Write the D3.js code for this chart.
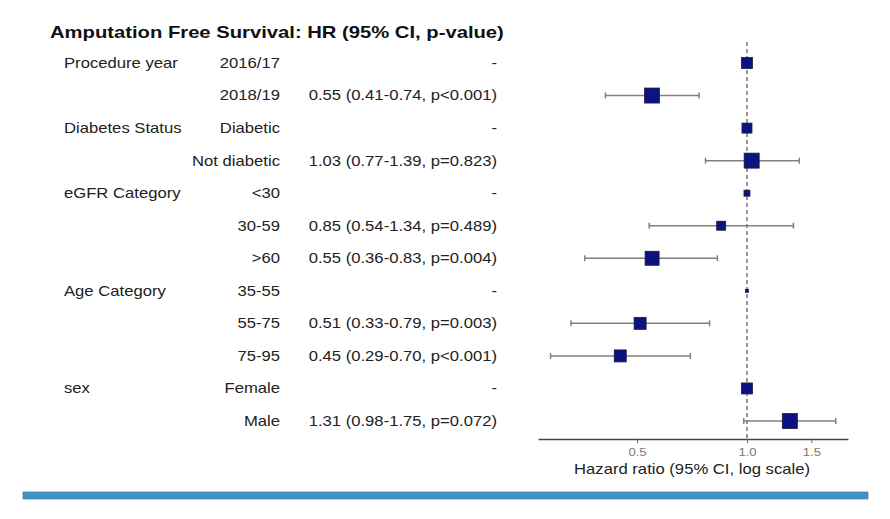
<!DOCTYPE html>
<html>
<head>
<meta charset="utf-8">
<script src="https://cdn.jsdelivr.net/npm/d3@7"></script>
<style>
  body { margin: 0; background: #fff; }
  text { font-family: "Liberation Sans", Arial, sans-serif; }
</style>
</head>
<body>
<script>
// data
var groups = ["Procedure year", "", "Diabetes Status", "", "eGFR Category", "", "", "Age Category", "", "", "sex", ""];
var levels = ["2016/17", "2018/19", "Diabetic", "Not diabetic", "<30", "30-59", ">60", "35-55", "55-75", "75-95", "Female", "Male"];
var hr    = [1, 0.55, 1, 1.03, 1, 0.85, 0.55, 1, 0.51, 0.45, 1, 1.31];
var lower = [null, 0.41, null, 0.77, null, 0.54, 0.36, null, 0.33, 0.29, null, 0.98];
var upper = [null, 0.74, null, 1.39, null, 1.34, 0.83, null, 0.79, 0.70, null, 1.75];
var pvals = ["", "p<0.001", "", "p=0.823", "", "p=0.489", "p=0.004", "", "p=0.003", "p<0.001", "", "p=0.072"];
// relative box weight (group sizes)
var weights = [11, 15, 10, 15, 6, 9, 14, 3, 12, 12, 11, 15];
var tickVals = [0.5, 1.0, 1.5];

var W = 890, H = 519;
var SX = 1.19; // source image is stretched horizontally
var svg = d3.select("body").append("svg")
  .attr("width", W)
  .attr("height", H);

function place(x, y) { return "translate(" + x + "," + y + ") scale(" + SX + ",1)"; }

var rows = levels.map(function(d, i) {
  return {group: groups[i], level: d, hr: hr[i], lo: lower[i], hi: upper[i], p: pvals[i], w: weights[i], i: i};
});

var y = d3.scalePoint()
  .domain(d3.range(rows.length))
  .range([63, 421]);

var x = d3.scaleLog()
  .domain([0.268, 1.89])
  .range([538, 848]);

var size = d3.scaleLinear().domain([0, 15]).range([0, 15]);

// title
svg.append("text")
  .attr("transform", place(50, 38))
  .attr("font-size", "17px")
  .attr("font-weight", "bold")
  .attr("fill", "#111")
  .text("Amputation Free Survival: HR (95% CI, p-value)");

// table columns
var tbl = svg.append("g").attr("font-size", "14px").attr("fill", "#222");

tbl.selectAll(".grp")
  .data(rows.filter(function(d) { return d.group; }))
  .enter().append("text")
  .attr("class", "grp")
  .attr("transform", function(d) { return place(64, y(d.i)); })
  .attr("dy", "0.35em")
  .text(function(d) { return d.group; });

tbl.selectAll(".lvl")
  .data(rows)
  .enter().append("text")
  .attr("class", "lvl")
  .attr("transform", function(d) { return place(280, y(d.i)); })
  .attr("dy", "0.35em")
  .attr("text-anchor", "end")
  .text(function(d) { return d.level; });

var fmt = d3.format(".2f");
tbl.selectAll(".est")
  .data(rows)
  .enter().append("text")
  .attr("class", "est")
  .attr("transform", function(d) { return place(497, y(d.i)); })
  .attr("dy", "0.35em")
  .attr("text-anchor", "end")
  .text(function(d) {
    if (d.lo == null) return "-";
    return fmt(d.hr) + " (" + fmt(d.lo) + "-" + fmt(d.hi) + ", " + d.p + ")";
  });

// reference line at 1
svg.append("line")
  .attr("x1", x(1)).attr("x2", x(1))
  .attr("y1", 42).attr("y2", 439)
  .attr("stroke", "#555")
  .attr("stroke-width", 1.2)
  .attr("stroke-dasharray", "4,3");

// whiskers
var ci = svg.append("g").attr("stroke", "#808080").attr("stroke-width", 1.5);
var withCI = rows.filter(function(d) { return d.lo != null; });

ci.selectAll(".whisk")
  .data(withCI)
  .enter().append("line")
  .attr("x1", function(d) { return x(d.lo); })
  .attr("x2", function(d) { return x(d.hi); })
  .attr("y1", function(d) { return y(d.i); })
  .attr("y2", function(d) { return y(d.i); });

ci.selectAll(".capL")
  .data(withCI)
  .enter().append("line")
  .attr("x1", function(d) { return x(d.lo); })
  .attr("x2", function(d) { return x(d.lo); })
  .attr("y1", function(d) { return y(d.i) - 3; })
  .attr("y2", function(d) { return y(d.i) + 3; });

ci.selectAll(".capR")
  .data(withCI)
  .enter().append("line")
  .attr("x1", function(d) { return x(d.hi); })
  .attr("x2", function(d) { return x(d.hi); })
  .attr("y1", function(d) { return y(d.i) - 3; })
  .attr("y2", function(d) { return y(d.i) + 3; });

// boxes
svg.selectAll(".box")
  .data(rows)
  .enter().append("rect")
  .attr("class", "box")
  .attr("x", function(d) { return x(d.hr) - size(d.w) / 2; })
  .attr("y", function(d) { return y(d.i) - size(d.w) / 2; })
  .attr("width", function(d) { return size(d.w); })
  .attr("height", function(d) { return size(d.w); })
  .attr("fill", "#0c1280")
  .attr("stroke", "#1b1b3c")
  .attr("stroke-width", 0.8);

// x axis
var axis = svg.append("g")
  .attr("transform", "translate(0,439)")
  .call(d3.axisBottom(x).tickValues(tickVals).tickFormat(d3.format(".1f")).tickSize(4).tickSizeOuter(0));
axis.select(".domain").attr("stroke", "#444").attr("stroke-width", 1.5);
axis.selectAll(".tick line").attr("stroke", "#666");
axis.selectAll(".tick text")
  .attr("fill", "#777")
  .attr("font-size", "11px")
  .attr("font-family", "Liberation Sans, Arial, sans-serif")
  .attr("transform", "scale(" + SX + ",1)")
  .attr("dy", "0.9em");

svg.append("text")
  .attr("transform", place(692, 474))
  .attr("text-anchor", "middle")
  .attr("font-size", "14px")
  .attr("fill", "#222")
  .text("Hazard ratio (95% CI, log scale)");

// blue rule at the bottom
svg.append("rect")
  .attr("x", 23)
  .attr("y", 492)
  .attr("width", 845)
  .attr("height", 7)
  .attr("fill", "#4292c4")
  .attr("stroke", "#2f6f9c")
  .attr("stroke-width", 0.6);
</script>
</body>
</html>
